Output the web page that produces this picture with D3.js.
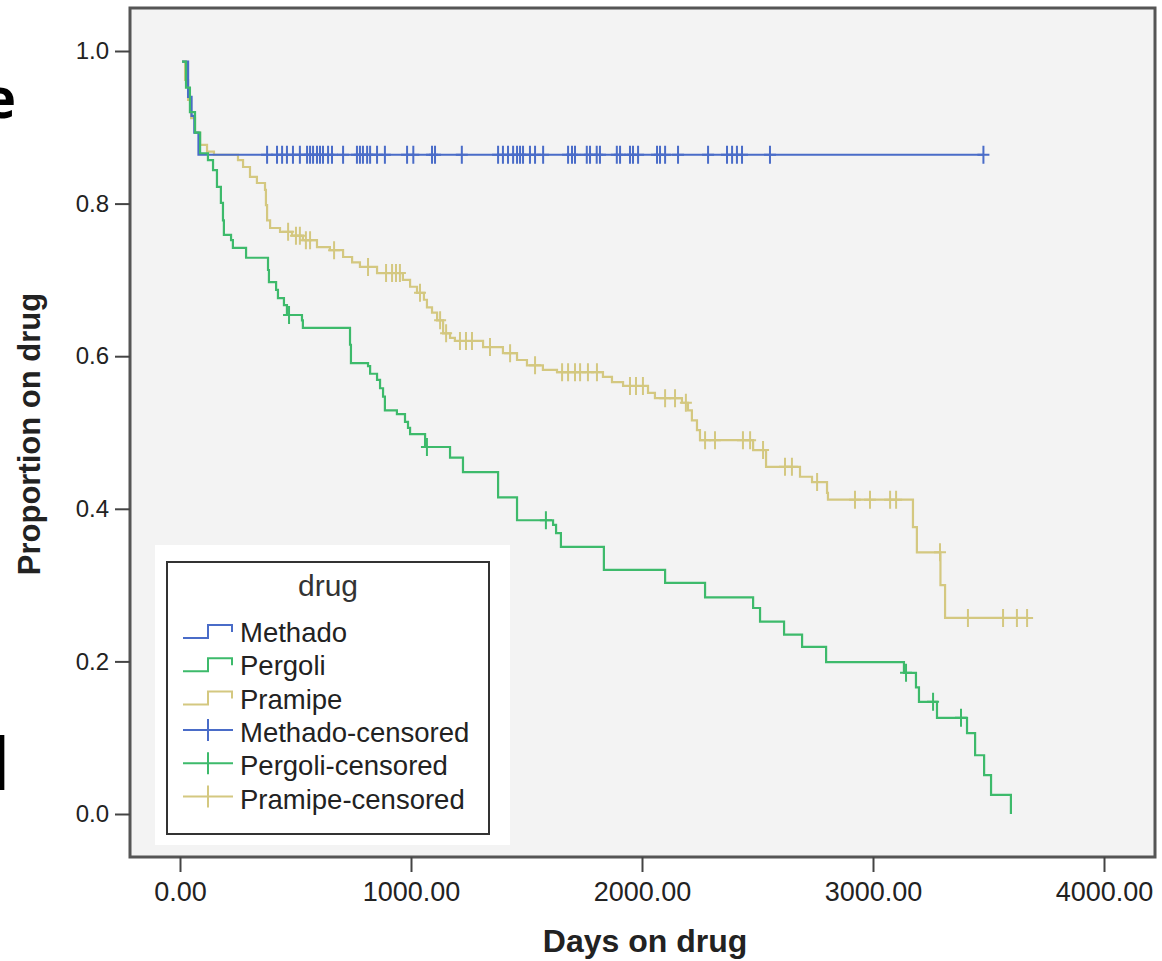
<!DOCTYPE html>
<meta charset="utf-8">
<script src="https://d3js.org/d3.v7.min.js"></script>
<style>
  body { margin: 0; background: #fff; }
  text { font-family: "Liberation Sans", Arial, sans-serif; }
</style>
<div id="chart"></div>
<script>
  // Kaplan-Meier steps: day of each drop and the proportion left after it
  var methadoDays = [9, 35, 50, 62, 80];
  var methadoSurv = [0.986, 0.940, 0.915, 0.893, 0.864];
  var methadoCensored = [377, 420, 442, 463, 489, 519, 550, 563, 576, 593, 606, 619, 641, 658, 706, 766, 779, 792, 810, 823,
    853, 887, 983, 1010, 1091, 1104, 1220, 1377, 1398, 1420, 1442, 1459, 1472, 1485, 1515, 1537, 1572, 1680, 1697, 1710,
    1761, 1775, 1804, 1818, 1891, 1905, 1948, 1961, 1983, 2065, 2078, 2100, 2156, 2286, 2368, 2390, 2411, 2433, 2554, 3478];

  var pergoliDays = [9, 26, 43, 65, 87, 121, 143, 160, 177, 186, 190, 221, 229, 286, 381, 385, 416, 424, 450, 463,
    528, 532, 736, 740, 814, 823, 853, 866, 879, 887, 939, 974, 987, 996, 1061, 1169, 1225, 1377, 1459, 1615,
    1628, 1649, 1835, 2100, 2273, 2481, 2511, 2615, 2693, 2797, 3134, 3186, 3199, 3277, 3407, 3442, 3481, 3511, 3597];
  var pergoliSurv = [0.986, 0.952, 0.920, 0.893, 0.866, 0.857, 0.844, 0.822, 0.801, 0.778, 0.759, 0.752, 0.742, 0.729, 0.713,
    0.697, 0.687, 0.676, 0.667, 0.654, 0.647, 0.637, 0.615, 0.591, 0.587, 0.577, 0.569, 0.558, 0.547, 0.529,
    0.524, 0.514, 0.506, 0.498, 0.481, 0.467, 0.448, 0.415, 0.385, 0.379, 0.368, 0.350, 0.320, 0.303, 0.284,
    0.270, 0.252, 0.235, 0.219, 0.199, 0.185, 0.166, 0.147, 0.126, 0.106, 0.077, 0.051, 0.025, 0.0];
  var pergoliCensored = [472, 1069, 1584, 3143, 3260, 3381];

  var pramipeDays = [9, 22, 35, 48, 65, 87, 117, 147, 251, 273, 303, 333, 368, 372, 377, 390, 433, 485, 532, 593,
    649, 706, 745, 779, 853, 965, 996, 1026, 1056, 1069, 1091, 1113, 1139, 1169, 1190, 1312, 1398, 1459, 1502, 1571,
    1632, 1831, 1870, 1918, 2026, 2056, 2173, 2199, 2216, 2238, 2251, 2481, 2537, 2684, 2736, 2801, 2805, 3173, 3190, 3292, 3312];
  var pramipeSurv = [0.986, 0.962, 0.936, 0.912, 0.893, 0.877, 0.868, 0.864, 0.857, 0.848, 0.835, 0.827, 0.818, 0.798, 0.778,
    0.768, 0.763, 0.758, 0.752, 0.743, 0.739, 0.730, 0.723, 0.717, 0.709, 0.700, 0.691, 0.683, 0.674, 0.664,
    0.657, 0.647, 0.630, 0.624, 0.620, 0.612, 0.604, 0.595, 0.588, 0.582, 0.579, 0.573, 0.566, 0.561, 0.552,
    0.545, 0.539, 0.529, 0.516, 0.503, 0.490, 0.477, 0.455, 0.442, 0.435, 0.421, 0.412, 0.376, 0.343, 0.300, 0.257];
  var pramipeCensored = [468, 502, 519, 545, 563, 667, 814, 892, 918, 935, 952, 1039, 1126, 1152, 1212, 1238, 1264, 1342,
    1429, 1537, 1654, 1680, 1710, 1732, 1766, 1805, 1948, 1974, 2004, 2100, 2143, 2190, 2273, 2316, 2437, 2468, 2524,
    2619, 2649, 2758, 2922, 2987, 3074, 3100, 3290, 3411, 3563, 3623, 3667];

  var drugNames = ["Methado", "Pergoli", "Pramipe"];
  var drugColors = ["#4a6cc8", "#3dba6b", "#d4c880"];
  var xTicks = [0, 1000, 2000, 3000, 4000];
  var yTicks = [0, 0.2, 0.4, 0.6, 0.8, 1.0];

  var width = 1162, height = 961;
  var frame = { left: 130, top: 8, right: 1155, bottom: 857 };

  var svg = d3.select("#chart")
    .append("svg")
    .attr("width", width)
    .attr("height", height);

  // scales
  var x = d3.scaleLinear().domain([0, 4000]).range([180, 1104]);
  var y = d3.scaleLinear().domain([0, 1]).range([814, 51]);

  // plot background + frame
  svg.append("rect")
    .attr("x", frame.left)
    .attr("y", frame.top)
    .attr("width", frame.right - frame.left)
    .attr("height", frame.bottom - frame.top)
    .attr("fill", "#f3f3f3")
    .attr("stroke", "#555")
    .attr("stroke-width", 3);

  // y axis
  var yAxis = svg.append("g")
    .attr("transform", "translate(" + frame.left + ",0)")
    .call(d3.axisLeft(y).tickValues(yTicks).tickFormat(d3.format(".1f")).tickSize(15).tickPadding(6));
  yAxis.select(".domain").remove();
  yAxis.selectAll("line").attr("stroke", "#444").attr("stroke-width", 2);
  yAxis.selectAll("text").style("font-size", "24px").attr("fill", "#222").attr("font-family", "Liberation Sans, Arial");

  // x axis
  var xAxis = svg.append("g")
    .attr("transform", "translate(0," + frame.bottom + ")")
    .call(d3.axisBottom(x).tickValues(xTicks).tickFormat(d3.format(".2f")).tickSize(15).tickPadding(10));
  xAxis.select(".domain").remove();
  xAxis.selectAll("line").attr("stroke", "#444").attr("stroke-width", 2);
  xAxis.selectAll("text").style("font-size", "27px").attr("fill", "#222").attr("font-family", "Liberation Sans, Arial");

  // axis titles
  svg.append("text")
    .attr("x", 645)
    .attr("y", 952)
    .style("text-anchor", "middle")
    .style("font-size", "32px")
    .style("font-weight", "bold")
    .attr("fill", "#222")
    .text("Days on drug");

  svg.append("text")
    .attr("transform", "translate(40,434) rotate(-90)")
    .style("text-anchor", "middle")
    .style("font-size", "31px")
    .style("font-weight", "bold")
    .attr("fill", "#222")
    .text("Proportion on drug");

  // cut-off letters from the neighbouring figure panel
  svg.append("text")
    .attr("x", 16)
    .attr("y", 118)
    .style("text-anchor", "end")
    .style("font-family", "Open Sans, sans-serif")
    .style("font-size", "56px")
    .style("font-weight", "bold")
    .attr("fill", "#000")
    .text("e");
  svg.append("text")
    .attr("x", -12)
    .attr("y", 790)
    .style("font-family", "Open Sans, sans-serif")
    .style("font-size", "72px")
    .style("font-weight", "bold")
    .attr("fill", "#000")
    .text("l");

  // build curves
  function makeSeries(days, surv, censored) {
    var pts = days.map(function (d, i) { return [d, surv[i]]; });
    var last = d3.max(censored.concat(days));
    if (last > days[days.length - 1]) pts.push([last, surv[surv.length - 1]]);
    var marks = censored.map(function (c) {
      var i = d3.bisectRight(days, c) - 1;
      return [c, surv[Math.max(i, 0)]];
    });
    return { pts: pts, marks: marks };
  }

  var series = [
    makeSeries(pramipeDays, pramipeSurv, pramipeCensored),
    makeSeries(methadoDays, methadoSurv, methadoCensored),
    makeSeries(pergoliDays, pergoliSurv, pergoliCensored)
  ];
  var seriesColor = [drugColors[2], drugColors[0], drugColors[1]];

  var line = d3.line()
    .x(function (d) { return x(d[0]); })
    .y(function (d) { return y(d[1]); })
    .curve(d3.curveStepAfter);

  series.forEach(function (s, k) {
    var g = svg.append("g");
    g.append("path")
      .datum(s.pts)
      .attr("d", line)
      .attr("fill", "none")
      .attr("stroke", seriesColor[k])
      .attr("stroke-width", 2.2);

    // censored marks
    g.selectAll("path.cens")
      .data(s.marks)
      .enter()
      .append("path")
      .attr("class", "cens")
      .attr("d", function (d) {
        var cx = x(d[0]), cy = y(d[1]);
        return "M" + (cx - 6) + "," + cy + "H" + (cx + 6) + "M" + cx + "," + (cy - 9) + "V" + (cy + 9);
      })
      .attr("fill", "none")
      .attr("stroke", seriesColor[k])
      .attr("stroke-width", 2);
  });

  // legend
  var legend = svg.append("g");
  legend.append("rect")
    .attr("x", 155).attr("y", 545)
    .attr("width", 355).attr("height", 300)
    .attr("fill", "#fff");
  legend.append("rect")
    .attr("x", 167).attr("y", 562)
    .attr("width", 322).attr("height", 272)
    .attr("fill", "#fff")
    .attr("stroke", "#333")
    .attr("stroke-width", 2);
  legend.append("text")
    .attr("x", 328).attr("y", 596)
    .style("text-anchor", "middle")
    .style("font-size", "30px")
    .attr("fill", "#333")
    .text("drug");

  var legendItems = drugNames.map(function (n, i) { return { name: n, color: drugColors[i], cens: false }; })
    .concat(drugNames.map(function (n, i) { return { name: n + "-censored", color: drugColors[i], cens: true }; }));

  legendItems.forEach(function (d, i) {
    var base = 642 + i * 33.3;
    legend.append("path")
      .attr("d", d.cens
        ? "M183," + (base - 12) + "H233M208," + (base - 23) + "V" + (base - 1)
        : "M183," + (base - 4) + "H208V" + (base - 17) + "H232V" + (base - 10))
      .attr("fill", "none")
      .attr("stroke", d.color)
      .attr("stroke-width", 2);
    legend.append("text")
      .attr("x", 240).attr("y", base)
      .style("font-size", "27.5px")
      .attr("fill", "#222")
      .text(d.name);
  });
</script>
